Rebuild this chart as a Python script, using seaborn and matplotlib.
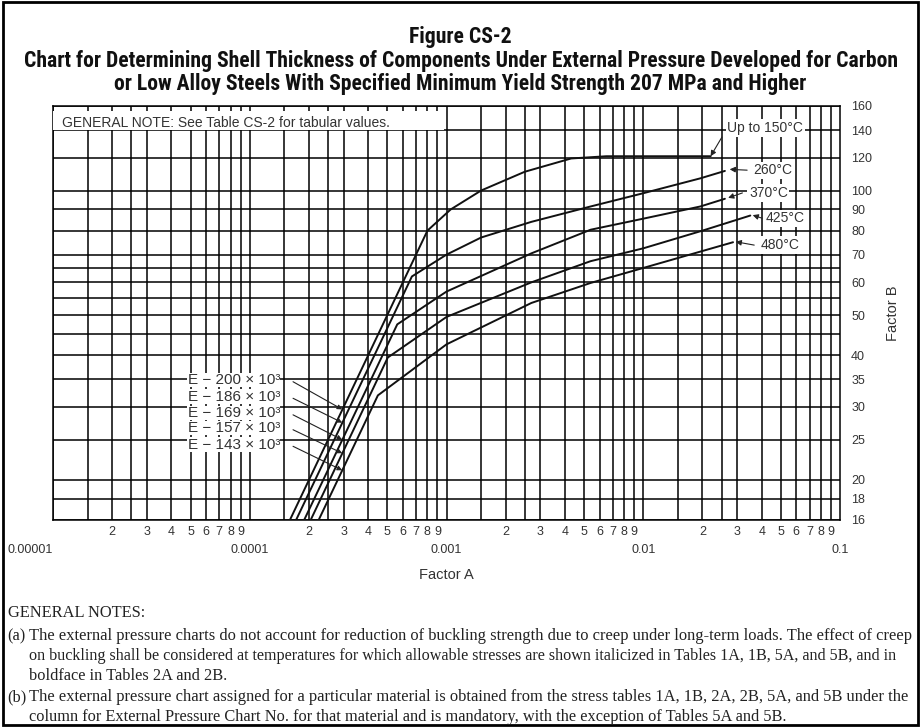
import os
import matplotlib
matplotlib.use("Agg")
import matplotlib.pyplot as plt
import seaborn as sns
import pandas as pd
from matplotlib.patches import Rectangle
from matplotlib.ticker import NullLocator
from matplotlib import font_manager
from matplotlib.font_manager import FontProperties

# ---------------- data ----------------
curve_names = ["Up to 150°C", "260°C", "370°C", "425°C", "480°C"]

a_150 = [1.6e-4, 8.0e-4, 1.05e-3, 1.5e-3, 2.5e-3, 4.3e-3, 6.5e-3, 2.2e-2]
b_150 = [16, 80, 90, 100, 111, 119.5, 121, 121]

a_260 = [1.72e-4, 6.67e-4, 1.0e-3, 1.5e-3, 2.7e-3, 5.4e-3, 1.0e-2, 1.95e-2, 2.6e-2]
b_260 = [16, 62, 70, 77, 84, 91.5, 98.5, 107, 111.5]

a_370 = [1.89e-4, 5.62e-4, 1.0e-3, 2.7e-3, 5.4e-3, 1.0e-2, 1.95e-2, 2.6e-2]
b_370 = [16, 47.5, 57, 70.5, 80.4, 85.5, 91.5, 95.5]

a_425 = [2.04e-4, 5.03e-4, 1.0e-3, 2.7e-3, 5.4e-3, 1.0e-2, 2.0e-2, 3.5e-2]
b_425 = [16, 39.5, 49.5, 60, 67.5, 72.5, 80, 87]

a_480 = [2.24e-4, 4.48e-4, 1.0e-3, 2.7e-3, 5.4e-3, 1.0e-2, 2.86e-2]
b_480 = [16, 32, 42.5, 53.5, 59.8, 65, 75]

e_labels = ["E − 200 × 10³", "E − 186 × 10³", "E − 169 × 10³",
            "E − 157 × 10³", "E − 143 × 10³"]
e_arrow_a = [2.95e-4, 2.95e-4, 2.95e-4, 2.95e-4, 2.95e-4]
e_arrow_b = [29.6, 27.5, 25.0, 23.2, 21.1]

x_decades = [1e-5, 1e-4, 1e-3, 1e-2, 1e-1]
x_decade_labels = ["0.00001", "0.0001", "0.001", "0.01", "0.1"]
x_minor_mult = [2, 3, 4, 5, 6, 7, 8, 9]
x_grid_mult = [1, 1.5, 2, 2.5, 3, 4, 5, 6, 7, 8, 9]
y_tick_values = [16, 18, 20, 25, 30, 35, 40, 50, 60, 70, 80, 90, 100, 120, 140, 160]
y_grid_values = [16, 18, 20, 25, 30, 35, 40, 45, 50, 55, 60, 65, 70, 80, 90,
                 100, 120, 140, 160]

curve_ends = {  # where label arrows point (A, B)
    "Up to 150°C": (2.2e-2, 121),
    "260°C": (2.75e-2, 112.5),
    "370°C": (2.7e-2, 96),
    "425°C": (3.6e-2, 87.2),
    "480°C": (2.95e-2, 75.2),
}

# ---------------- build long table ----------------
frames = []
for name, a, b in zip(curve_names, [a_150, a_260, a_370, a_425, a_480],
                      [b_150, b_260, b_370, b_425, b_480]):
    frames.append(pd.DataFrame({"A": a, "B": b, "curve": name}))
df = pd.concat(frames, ignore_index=True)

# ---------------- style ----------------
sns.set_theme(style="white")
sans = ["Liberation Sans", "DejaVu Sans"]
plt.rcParams["font.family"] = sans
serif_family = ["Liberation Serif", "DejaVu Serif"]
txt_col = "#333333"

# pick a condensed bold face for the title if one is installed
cond_names = ["DejaVuSansCondensed-Bold.ttf", "LiberationSansNarrow-Bold.ttf",
              "RobotoCondensed-Bold.ttf", "OpenSans_Condensed-Bold.ttf",
              "OpenSans-CondBold.ttf", "NotoSans-CondensedBold.ttf"]
title_fp = None
for f in font_manager.findSystemFonts():
    if os.path.basename(f) in cond_names:
        title_fp = FontProperties(fname=f, size=15.6)
        break
if title_fp is None:
    title_fp = FontProperties(family=["Liberation Sans", "DejaVu Sans"],
                              weight="bold", size=11.2)

W, H = 921, 727
fig = plt.figure(figsize=(W / 100, H / 100), dpi=100)
fig.patch.set_facecolor("white")

L, R, T, B = 53, 840, 106, 520
ax = fig.add_axes([L / W, 1 - B / H, (R - L) / W, (B - T) / H])
ax.set_xscale("log")
ax.set_yscale("log")
ax.set_xlim(1e-5, 1e-1)
ax.set_ylim(16, 160)

# grid
for d in x_decades[:-1]:
    for m in x_grid_mult:
        ax.axvline(d * m, color="black", lw=1.1, zorder=1)
for yv in y_grid_values:
    ax.axhline(yv, color="black", lw=1.1, zorder=1)

# curves
sns.lineplot(data=df, x="A", y="B", units="curve", estimator=None, sort=False,
             color="#111111", linewidth=1.4, ax=ax, legend=False, zorder=3)

# ticks
ax.set_xticks(x_decades)
ax.set_xticklabels(x_decade_labels)
minor_pos = [d * m for d in x_decades[:-1] for m in x_minor_mult]
minor_lab = [str(m) for d in x_decades[:-1] for m in x_minor_mult]
ax.set_xticks(minor_pos, minor=True)
ax.set_xticklabels(minor_lab, minor=True)
ax.tick_params(axis="x", which="major", length=0, pad=17, labelsize=9, colors=txt_col)
ax.tick_params(axis="x", which="minor", length=0, pad=4, labelsize=9, colors=txt_col)
ax.get_xticklabels()[0].set_horizontalalignment("right")
ax.yaxis.tick_right()
ax.set_yticks(y_tick_values)
ax.set_yticklabels([str(v) for v in y_tick_values])
ax.yaxis.set_minor_locator(NullLocator())
ax.tick_params(axis="y", which="major", length=0, pad=8, labelsize=9, colors=txt_col)
ax.set_xlabel("")
ax.set_ylabel("")
for s in ax.spines.values():
    s.set_color("black")
    s.set_linewidth(1.1)
    s.set_visible(True)

# general note box (axes fraction)
ax.add_patch(Rectangle((0.0, 0.942), 0.497, 0.045, transform=ax.transAxes,
                       facecolor="white", edgecolor="none", zorder=4))
ax.text(0.012, 0.960, "GENERAL NOTE: See Table CS-2 for tabular values.",
        transform=ax.transAxes, fontsize=10, color=txt_col, va="center",
        ha="left", zorder=5)

# temperature labels
lab_pos = {
    "Up to 150°C": (0.905, 0.947),
    "260°C": (0.915, 0.845),
    "370°C": (0.909, 0.790),
    "425°C": (0.930, 0.729),
    "480°C": (0.924, 0.664),
}
arrow_from = {
    "Up to 150°C": (0.850, 0.925),
    "260°C": (0.882, 0.845),
    "370°C": (0.876, 0.790),
    "425°C": (0.901, 0.729),
    "480°C": (0.891, 0.664),
}
for name in curve_names:
    x0, y0 = lab_pos[name]
    ax.text(x0, y0, name, transform=ax.transAxes, fontsize=10, color=txt_col,
            ha="center", va="center", zorder=6,
            bbox=dict(boxstyle="square,pad=0.12", fc="white", ec="none"))
    ax.annotate("", xy=curve_ends[name], xycoords="data",
                xytext=arrow_from[name], textcoords="axes fraction",
                arrowprops=dict(arrowstyle="-|>", color="#222222", lw=0.8,
                                mutation_scale=8, shrinkA=0, shrinkB=0),
                zorder=6)

# E labels
e_y = [0.338, 0.298, 0.258, 0.222, 0.182]
for lab, yy, ta, tb in zip(e_labels, e_y, e_arrow_a, e_arrow_b):
    ax.text(0.171, yy, lab, transform=ax.transAxes, fontsize=11, color=txt_col,
            ha="left", va="center", zorder=6,
            bbox=dict(boxstyle="square,pad=0.02", fc="white", ec="none"))
    ax.annotate("", xy=(ta, tb), xycoords="data", xytext=(0.305, yy - 0.004),
                textcoords="axes fraction",
                arrowprops=dict(arrowstyle="-|>", color="#222222", lw=0.8,
                                mutation_scale=7, shrinkA=0, shrinkB=0),
                zorder=6)

# axis titles
fig.text(446 / W, 1 - 575 / H, "Factor A", ha="center", va="center",
         fontsize=10.5, color=txt_col)
fig.text(893 / W, 1 - 313 / H, "Factor B", ha="center", va="center",
         fontsize=10.5, color=txt_col, rotation=90)

# figure titles
for yy, t in [(37, "Figure CS-2"),
              (61, "Chart for Determining Shell Thickness of Components Under External Pressure Developed for Carbon"),
              (84, "or Low Alloy Steels With Specified Minimum Yield Strength 207 MPa and Higher")]:
    fig.text(0.5, 1 - yy / H, t, ha="center", va="center",
             fontproperties=title_fp, color="#111111")

# bottom notes
notes = [
    (8, 613, "GENERAL NOTES:", 11.8),
    (7, 636, "(a)", 11.8),
    (29, 636, "The external pressure charts do not account for reduction of buckling strength due to creep under long-term loads. The effect of creep", 11.9),
    (29, 656, "on buckling shall be considered at temperatures for which allowable stresses are shown italicized in Tables 1A, 1B, 5A, and 5B, and in", 11.65),
    (29, 676, "boldface in Tables 2A and 2B.", 11.8),
    (7, 697, "(b)", 11.8),
    (29, 697, "The external pressure chart assigned for a particular material is obtained from the stress tables 1A, 1B, 2A, 2B, 5A, and 5B under the", 11.85),
    (29, 717, "column for External Pressure Chart No. for that material and is mandatory, with the exception of Tables 5A and 5B.", 11.8),
]
for x, y, t, fs in notes:
    fig.text(x / W, 1 - y / H, t, ha="left", va="center", fontsize=fs,
             family=serif_family, color="#222222")

# outer border
fig.add_artist(Rectangle((0.003, 0.003), 0.994, 0.994, transform=fig.transFigure,
                         fill=False, edgecolor="black", lw=2))

fig.savefig("out.png", dpi=100, facecolor="white")
